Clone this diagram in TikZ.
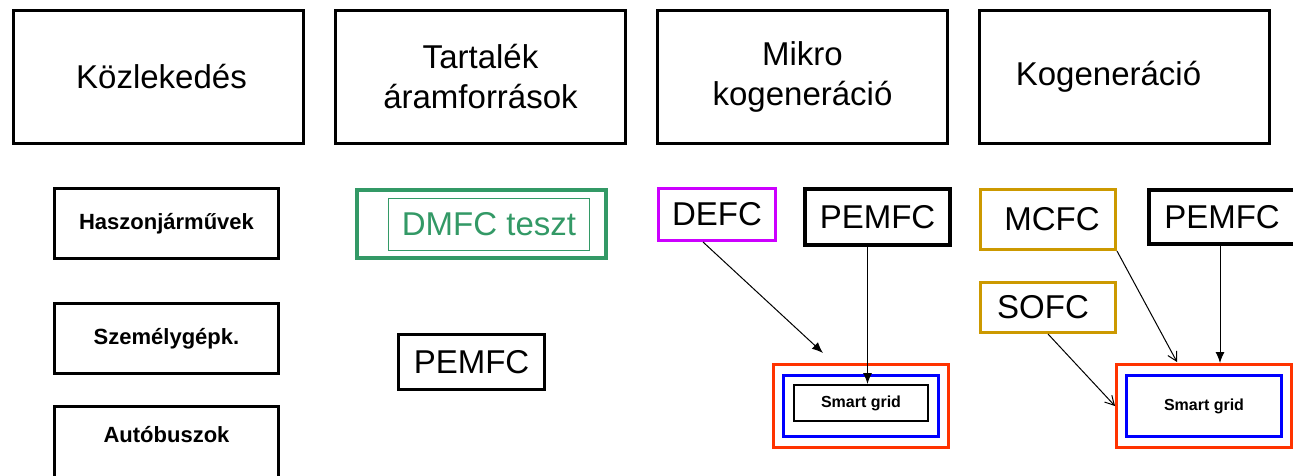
\documentclass[tikz,border=0pt]{standalone}
\usepackage{fontspec}
\setmainfont{Liberation Sans}
\usepackage{tikz}
\usetikzlibrary{shapes,arrows,arrows.meta,positioning}

\definecolor{dmfcgreen}{RGB}{51,153,102}
\definecolor{defcviolet}{RGB}{204,0,255}
\definecolor{cellgold}{RGB}{204,153,0}
\definecolor{gridred}{RGB}{255,51,0}
\definecolor{gridblue}{RGB}{0,0,255}

\begin{document}
\begin{tikzpicture}[x=1pt,y=-1pt,node distance=29pt,auto,>={Latex[length=11pt,width=9pt]},
                every node/.style={draw, align=center, rectangle, inner sep=0pt, line width=3pt},
                area/.style={minimum width=290pt, minimum height=133pt, font=\fontsize{33}{40}\selectfont},
                vehicle/.style={minimum width=224pt, minimum height=70pt, font=\fontsize{22}{26}\selectfont\bfseries},
                cell/.style={font=\fontsize{33}{40}\selectfont},
                gridouter/.style={draw=gridred, minimum width=175pt, minimum height=83pt},
                gridinner/.style={draw=gridblue, minimum width=155pt, minimum height=61pt, font=\fontsize{16}{19}\selectfont\bfseries},
                link/.style={line width=1pt}
                ]
                \useasboundingbox (0,0) rectangle (1293,476);

                \node[area] (kozl) at (158.5,77) {\hspace*{6pt}Közlekedés};
                \node[area, right=of kozl] (tartalek) {Tartalék\\áramforrások};
                \node[area, right=of tartalek] (mikro) {Mikro\\kogeneráció};
                \node[area, right=of mikro] (kogen) {\hspace*{-32pt}Kogeneráció};

                \node[vehicle] (haszon) at (166.5,223.5) {Haszonjárművek};
                \node[vehicle, below=42pt of haszon] (szemely) {Személygépk.};
                \node[vehicle, below=30pt of szemely, minimum height=80pt, text depth=24pt] (busz) {Autóbuszok};

                \node[draw=dmfcgreen, line width=4pt, minimum width=249pt, minimum height=68pt] (dmfcbox) at (481.5,224) {};
                \node[cell, draw=dmfcgreen, text=dmfcgreen, line width=1.5pt, minimum width=201pt, minimum height=52pt] (dmfc) at (489,224.5) {DMFC teszt};
                \node[cell, minimum width=146pt, minimum height=55pt] (pemfct) at (471.5,362) {PEMFC};

                \node[cell, draw=defcviolet, minimum width=117pt, minimum height=52pt] (defc) at (717,214.5) {DEFC};
                \node[cell, line width=4pt, minimum width=145pt, minimum height=56pt] (pemfcm) at (877.5,217) {PEMFC};
                \node[gridouter] (redm) at (861,406) {};
                \node[gridinner] (bluem) at (861,406) {};
                \node[line width=2pt, minimum width=134pt, minimum height=36pt, font=\fontsize{16}{19}\selectfont\bfseries] (gridm) at (861,403) {Smart grid};

                \node[cell, draw=cellgold, minimum width=135pt, minimum height=60pt] (mcfc) at (1048,219.5) {\hspace*{8pt}MCFC};
                \node[cell, draw=cellgold, minimum width=135pt, minimum height=50pt] (sofc) at (1048,307.5) {SOFC\hspace*{10pt}};
                \node[cell, line width=4pt, minimum width=150pt, minimum height=54pt] (pemfck) at (1224,217) {PEMFC\hspace*{4pt}};
                \node[gridouter] (redk) at (1204,406) {};
                \node[gridinner] (gridk) at (1204,406) {Smart grid};

                \coordinate (defcend) at (823,353);
                \coordinate (mcfcend) at (1177,362);

                \draw[link,->] ([xshift=-14pt]defc.south) -- (defcend);
                \draw[link,->] ([xshift=-10pt]pemfcm.south) -- ([xshift=-10pt]pemfcm.south |- gridm.north);
                \draw[link,-{Straight Barb[length=9pt,width=10pt]}] (mcfc.south east) -- (mcfcend);
                \draw[link,->] ([xshift=-4pt]pemfck.south) -- ([xshift=-4pt]pemfck.south |- redk.north);
                \draw[link,-{Straight Barb[length=9pt,width=10pt]}] (sofc.south) -- (redk.west);
        \end{tikzpicture}
\end{document}
